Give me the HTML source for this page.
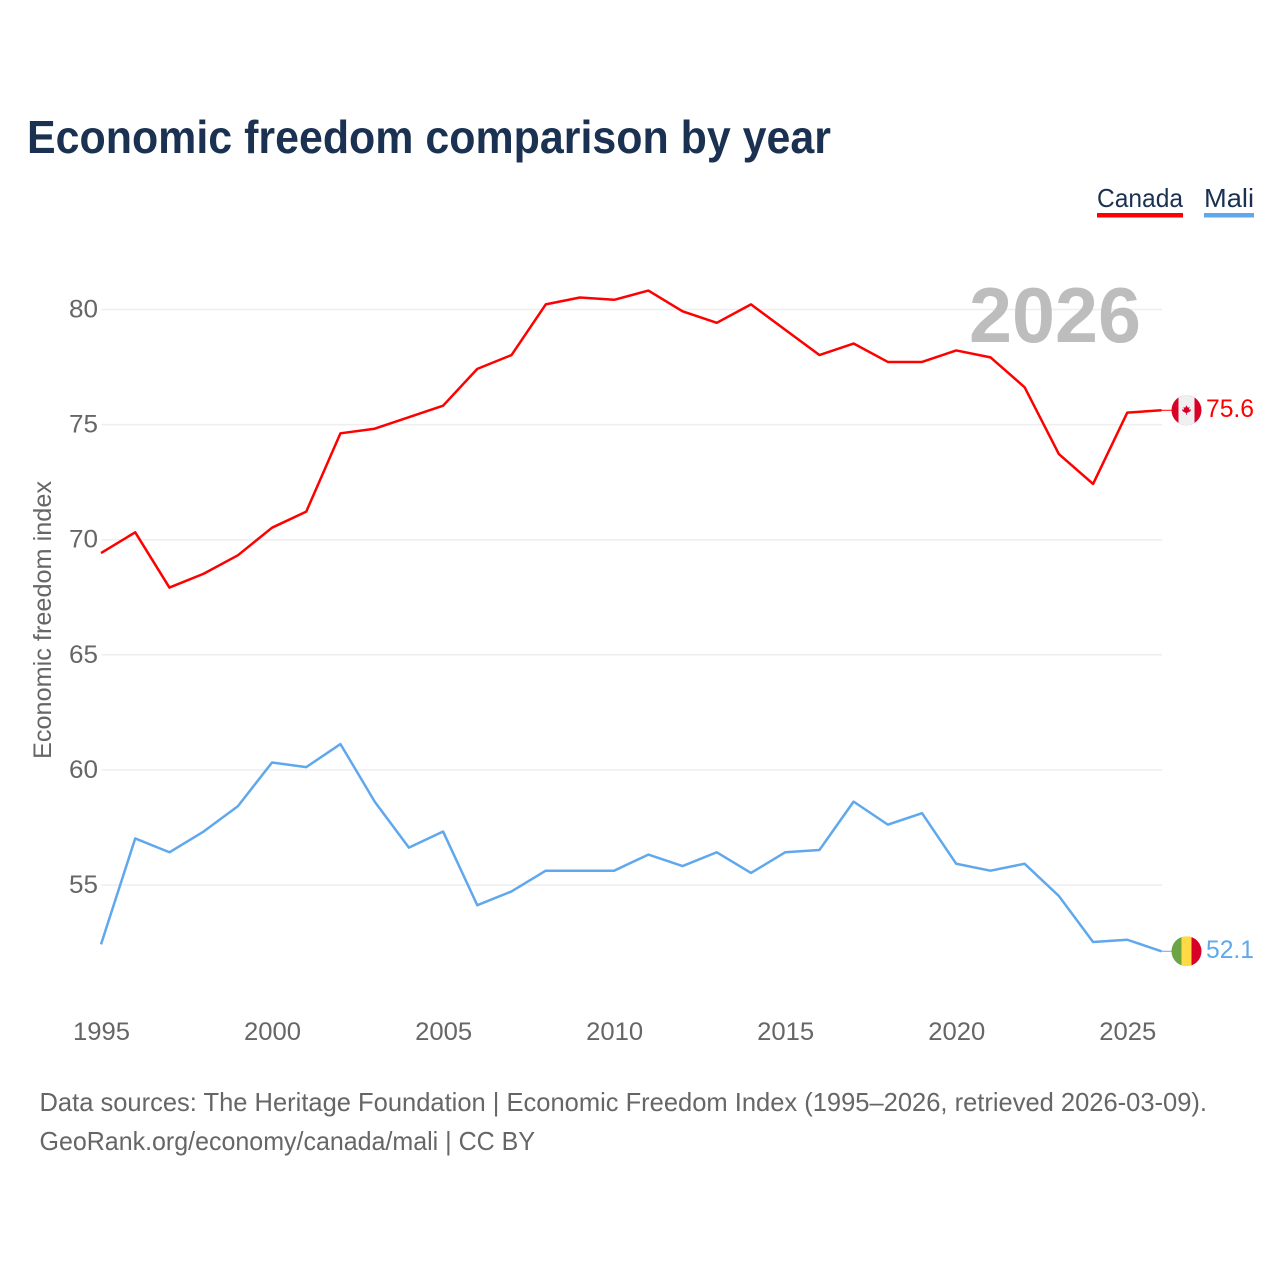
<!DOCTYPE html>
<html lang="en">
<head>
<meta charset="utf-8">
<title>Economic freedom comparison by year</title>
<style>
html,body{margin:0;padding:0;background:#fff;width:1280px;height:1280px;overflow:hidden}
svg{display:block}
text{font-family:"Liberation Sans",Arial,sans-serif}
</style>
</head>
<body>
<svg id="chart" xmlns="http://www.w3.org/2000/svg" width="1280" height="1280" viewBox="0 0 1280 1280">
  <rect width="1280" height="1280" fill="#fff"/>
  <text x="27" y="153" font-size="46" font-weight="700" fill="#1a3152" textLength="804" lengthAdjust="spacingAndGlyphs">Economic freedom comparison by year</text>

  <g>
    <g>
      <text x="1097" y="207" font-size="26" fill="#1a3152" textLength="86" lengthAdjust="spacingAndGlyphs">Canada</text>
      <rect x="1097" y="213" width="86" height="4.5" fill="#ff0000"/>
    </g>
    <g>
      <text x="1204" y="207" font-size="26" fill="#1a3152" textLength="50" lengthAdjust="spacingAndGlyphs">Mali</text>
      <rect x="1204" y="213" width="50" height="4.5" fill="#5fa8ee"/>
    </g>
  </g>

  <g id="grid"></g>
  <g id="yticks"></g>
  <g id="xticks"></g>

  <text transform="translate(51 620) rotate(-90)" text-anchor="middle" font-size="25" fill="#666" textLength="278" lengthAdjust="spacingAndGlyphs">Economic freedom index</text>

  <text id="year-label" x="969" y="342" font-size="78" font-weight="700" fill="#bdbdbd" textLength="172" lengthAdjust="spacingAndGlyphs">2026</text>

  <g id="series"></g>
  <g id="ends"></g>

  <text x="39.5" y="1111" font-size="26" fill="#666" textLength="1167.5" lengthAdjust="spacingAndGlyphs">Data sources: The Heritage Foundation | Economic Freedom Index (1995–2026, retrieved 2026-03-09).</text>
  <text x="39.5" y="1150" font-size="26" fill="#666" textLength="495.5" lengthAdjust="spacingAndGlyphs">GeoRank.org/economy/canada/mali | CC BY</text>
</svg>
<script>
const years = [1995,1996,1997,1998,1999,2000,2001,2002,2003,2004,2005,2006,2007,2008,2009,2010,2011,2012,2013,2014,2015,2016,2017,2018,2019,2020,2021,2022,2023,2024,2025,2026];
const canadaValues = [69.4,70.3,67.9,68.5,69.3,70.5,71.2,74.6,74.8,75.3,75.8,77.4,78.0,80.2,80.5,80.4,80.8,79.9,79.4,80.2,79.1,78.0,78.5,77.7,77.7,78.2,77.9,76.6,73.7,72.4,75.5,75.6];
const maliValues = [52.4,57.0,56.4,57.3,58.4,60.3,60.1,61.1,58.6,56.6,57.3,54.1,54.7,55.6,55.6,55.6,56.3,55.8,56.4,55.5,56.4,56.5,58.6,57.6,58.1,55.9,55.6,55.9,54.5,52.5,52.6,52.1];
const yTickValues = [55,60,65,70,75,80];
const xTickValues = [1995,2000,2005,2010,2015,2020,2025];

const NS = 'http://www.w3.org/2000/svg';
const plotLeft = 101, plotRight = 1161.5;
const xScale = function (year) {
  return plotLeft + (year - years[0]) * (plotRight - plotLeft) / (years[years.length - 1] - years[0]);
};
const yScale = function (value) {
  return 309.5 + (80 - value) * 23.02;
};
function make(tag, attrs, parent) {
  const el = document.createElementNS(NS, tag);
  for (const key in attrs) el.setAttribute(key, attrs[key]);
  parent.appendChild(el);
  return el;
}
const grid = document.getElementById('grid');
const yticks = document.getElementById('yticks');
const xticks = document.getElementById('xticks');
const seriesGroup = document.getElementById('series');
const ends = document.getElementById('ends');

yTickValues.forEach(function (v) {
  const line = make('line', {x1: 101.5, x2: 1162, y1: yScale(v), y2: yScale(v), stroke: '#eeeeee', 'stroke-width': 1.5}, grid);
  
  
  const label = make('text', {x: 98, y: yScale(v) + 8, 'text-anchor': 'end', 'font-size': 25, fill: '#666', textLength: 29, lengthAdjust: 'spacingAndGlyphs'}, yticks);
  label.textContent = v;
  
  
});

xTickValues.forEach(function (year) {
  const label = make('text', {x: xScale(year) + 0.5, y: 1040, 'text-anchor': 'middle', 'font-size': 25, fill: '#666', textLength: 57, lengthAdjust: 'spacingAndGlyphs'}, xticks);
  label.textContent = year;
  
  
});

function pointsFor(values) {
  return values.map(function (v, i) {
    return xScale(years[i]).toFixed(2) + ',' + (yScale(v) - 0.5).toFixed(2);
  }).join(' ');
}

const canadaLine = make('polyline', {points: pointsFor(canadaValues), fill: 'none', stroke: '#ff0000', 'stroke-width': 2.5, 'stroke-linejoin': 'round'}, seriesGroup);



const maliLine = make('polyline', {points: pointsFor(maliValues), fill: 'none', stroke: '#5fa8ee', 'stroke-width': 2.5, 'stroke-linejoin': 'round'}, seriesGroup);



const flagX = 1186.5;
const canadaLast = canadaValues[canadaValues.length - 1];
const maliLast = maliValues[maliValues.length - 1];

const defs = make('defs', {}, ends);
const canadaClip = make('clipPath', {id: 'clip-canada'}, defs);
make('circle', {cx: flagX, cy: yScale(canadaLast) - 0.5, r: 15}, canadaClip);
const maliClip = make('clipPath', {id: 'clip-mali'}, defs);
make('circle', {cx: flagX, cy: yScale(maliLast) - 0.5, r: 15}, maliClip);

const canadaConnector = make('line', {x1: plotRight, x2: flagX - 15, y1: yScale(canadaLast) - 0.5, y2: yScale(canadaLast) - 0.5, stroke: '#ff0000', 'stroke-width': 1}, ends);


const maliConnector = make('line', {x1: plotRight, x2: flagX - 15, y1: yScale(maliLast) - 0.5, y2: yScale(maliLast) - 0.5, stroke: '#5fa8ee', 'stroke-width': 1}, ends);



const canadaFlag = make('g', {'clip-path': 'url(#clip-canada)'}, ends);


const cy = yScale(canadaLast) - 0.5;
make('rect', {x: flagX - 15, y: cy - 15, width: 30, height: 30, fill: '#d80027'}, canadaFlag);
make('rect', {x: flagX - 8, y: cy - 15, width: 16, height: 30, fill: '#f0f0f0'}, canadaFlag);
make('path', {d: 'M0 -5 L1.3 -2.6 L3 -3.3 L2.4 -0.6 L4.6 -1 L3.8 1 L1 2.6 L0.4 2.6 L0.4 4.6 L-0.4 4.6 L-0.4 2.6 L-1 2.6 L-3.8 1 L-4.6 -1 L-2.4 -0.6 L-3 -3.3 L-1.3 -2.6 Z', fill: '#d80027', transform: 'translate(' + flagX + ' ' + cy + ')'}, canadaFlag);

const maliFlag = make('g', {'clip-path': 'url(#clip-mali)'}, ends);


const my = yScale(maliLast) - 0.5;
make('rect', {x: flagX - 15, y: my - 15, width: 10, height: 30, fill: '#6da544'}, maliFlag);
make('rect', {x: flagX - 5, y: my - 15, width: 10, height: 30, fill: '#ffda44'}, maliFlag);
make('rect', {x: flagX + 5, y: my - 15, width: 10, height: 30, fill: '#d80027'}, maliFlag);

const canadaEnd = make('text', {x: 1206, y: yScale(canadaLast) + 6, 'font-size': 25, fill: '#ff0000', textLength: 48, lengthAdjust: 'spacingAndGlyphs'}, ends);
canadaEnd.textContent = canadaLast.toFixed(1);



const maliEnd = make('text', {x: 1206, y: yScale(maliLast) + 6, 'font-size': 25, fill: '#5fa8ee', textLength: 48, lengthAdjust: 'spacingAndGlyphs'}, ends);
maliEnd.textContent = maliLast.toFixed(1);


</script>
</body>
</html>
